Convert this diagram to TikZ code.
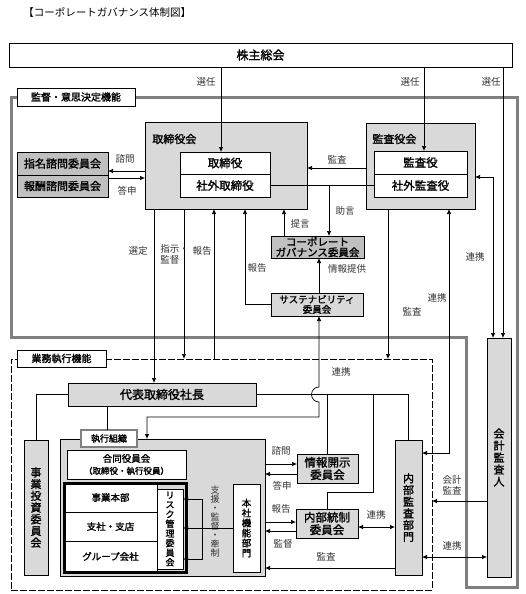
\documentclass[tikz,border=0pt]{standalone}
\usepackage{fontspec}
\setmainfont{Noto Sans CJK JP}[BoldFont={Noto Sans CJK JP},BoldFeatures={FakeBold=1.6}]
\usetikzlibrary{arrows.meta,positioning}
\definecolor{boxgray}{HTML}{D9D9D9}
\definecolor{midgray}{HTML}{C0C0C0}
\definecolor{framegray}{HTML}{808080}
\definecolor{lblgray}{HTML}{333333}
\newcommand\fs[2]{\fontsize{#1}{#2}\selectfont}
\tikzset{
  box/.style={draw,line width=0.8pt,inner sep=0pt,outer sep=0pt,align=center,font=\bfseries\fs{11.5}{13}},
  gbox/.style={box,fill=boxgray},
  mbox/.style={box,fill=midgray},
  wbox/.style={box,fill=white},
  tab/.style={box,fill=white,font=\bfseries\fs{10}{12}},
  lbl/.style={inner sep=0pt,align=center,text=lblgray,font=\fs{9.5}{11}},
  arr/.style={line width=0.7pt,-{Latex[length=5pt,width=4.5pt]}},
  darr/.style={line width=0.7pt,{Latex[length=5pt,width=4.5pt]}-{Latex[length=5pt,width=4.5pt]}}
}
\begin{document}
\begin{tikzpicture}[x=1pt,y=-1pt,line width=0.7pt]
\useasboundingbox (0,0) rectangle (526,594);
\node[anchor=west,inner sep=0pt,font=\fs{10.5}{12}] (title) at (23,12) {【コーポレートガバナンス体制図】};
\node[box,minimum width=503pt,minimum height=24pt,font=\bfseries\fs{12}{14}] (soukai) at (260.5,55) {株主総会};
% 監督・意思決定機能
\draw[framegray,line width=3pt] (11,97) -- (517,97) -- (517,587) -- (466,587) -- (466,337) -- (11,337) -- cycle;
\node[tab,minimum width=118pt,minimum height=18pt] (tab1) at (76,97) {監督・意思決定機能};
\node[gbox,minimum width=162pt,minimum height=87pt] (torikai) at (226,165.5) {};
\node[anchor=west,inner sep=0pt,font=\bfseries\fs{11}{13}] (torikailbl) at (152,139) {取締役会};
\node[wbox,minimum width=90pt,minimum height=22pt] (torA) at (225,163) {取締役};
\node[wbox,minimum width=90pt,minimum height=23pt] (torB) at (225,185.5) {社外取締役};
\node[gbox,minimum width=109pt,minimum height=86pt] (kansakai) at (420.5,166) {};
\node[anchor=west,inner sep=0pt,font=\bfseries\fs{11}{13}] (kansakailbl) at (372,139) {監査役会};
\node[wbox,minimum width=93pt,minimum height=23pt] (kanA) at (420.5,162.5) {監査役};
\node[wbox,minimum width=93pt,minimum height=23pt] (kanB) at (420.5,185.5) {社外監査役};
\node[mbox,minimum width=91pt,minimum height=23pt,font=\bfseries\fs{11}{13}] (shimei) at (62.5,163.5) {指名諮問委員会};
\node[mbox,minimum width=91pt,minimum height=22pt,font=\bfseries\fs{11}{13}] (houshu) at (62.5,186) {報酬諮問委員会};
\node[mbox,minimum width=93pt,minimum height=22pt,font=\bfseries\fs{10.5}{10.5}] (cg) at (317.5,247) {コーポレート\\ガバナンス委員会};
\node[gbox,minimum width=92pt,minimum height=23pt,font=\bfseries\fs{9.5}{10}] (sus) at (317,304.5) {サステナビリティ\\委員会};
% 業務執行機能
\node[box,dash pattern=on 7pt off 2pt,minimum width=421pt,minimum height=231pt] (gyomu) at (221.5,474.5) {};
\node[tab,minimum width=89pt,minimum height=17pt] (tab2) at (61.5,358.5) {業務執行機能};
\node[gbox,minimum width=188pt,minimum height=23pt,font=\bfseries\fs{12}{14}] (pres) at (162,394.5) {代表取締役社長};
\node[gbox,minimum width=24pt,minimum height=135pt,font=\bfseries\fs{11}{11.7}] (jigyo) at (36,507.5) {事\\業\\投\\資\\委\\員\\会};
\node[gbox,minimum width=205pt,minimum height=137pt] (exec) at (162.5,507.5) {};
\node[tab,draw=framegray,line width=1.5pt,minimum width=56pt,minimum height=17pt,font=\bfseries\fs{9}{10}] (tab3) at (109,438.5) {執行組織};
\node[wbox,minimum width=119pt,minimum height=29pt,font=\bfseries\fs{9.5}{12}] (goudou) at (126.5,464.5) {合同役員会\\{\fs{8.5}{10}（取締役・執行役員）}};
\node[wbox,minimum width=93pt,minimum height=29pt,font=\bfseries\fs{9.5}{11}] (row1) at (110.5,497.5) {事業本部};
\node[wbox,minimum width=93pt,minimum height=29pt,font=\bfseries\fs{9.5}{11}] (row2) at (110.5,526.5) {支社・支店};
\node[wbox,minimum width=93pt,minimum height=31pt,font=\bfseries\fs{9.5}{11}] (row3) at (110.5,556.5) {グループ会社};
\node[box,line width=3pt,minimum width=122pt,minimum height=89pt] (bu) at (125,527.5) {};
\node[wbox,minimum width=26pt,minimum height=80pt,font=\bfseries\fs{9}{9.6}] (risk) at (170,529) {リ\\ス\\ク\\管\\理\\委\\員\\会};
\node[wbox,minimum width=27pt,minimum height=88pt,font=\bfseries\fs{9.5}{10}] (honsha) at (246.5,528) {本\\社\\機\\能\\部\\門};
\node[lbl,font=\fs{9}{9.1}] (shien) at (215,521.5) {支\\援\\・\\監\\督\\・\\牽\\制};
\node[gbox,minimum width=61pt,minimum height=29pt,font=\bfseries\fs{11.5}{12.5}] (johokai) at (327.5,468.5) {情報開示\\委員会};
\node[gbox,minimum width=62pt,minimum height=29pt,font=\bfseries\fs{11.5}{12.5}] (naibu) at (327,523.5) {内部統制\\委員会};
\node[gbox,minimum width=27pt,minimum height=135pt,font=\bfseries\fs{11}{11.7}] (audit) at (408.5,507.5) {内\\部\\監\\査\\部\\門};
\node[gbox,minimum width=24pt,minimum height=239pt,font=\bfseries\fs{11}{12}] (kaikei) at (499,457.5) {会\\計\\監\\査\\人};
% 選任
\draw[arr] (soukai.south -| 221,0) -- (torA.north -| 221,0);
\draw[arr] (soukai.south -| 424,0) -- (kanA.north -| 424,0);
\draw[arr] (soukai.south -| 503,0) -- (kaikei.north -| 503,0);
\node[lbl] (sen1) at (206,82) {選任};
\node[lbl] (sen2) at (410,82) {選任};
\node[lbl] (sen3) at (491,82) {選任};
% 取締役会まわり
\draw[arr] (torikai.west |- 0,171) -- (shimei.east |- 0,171);
\draw[arr] (houshu.east |- 0,178) -- (torikai.west |- 0,178);
\node[lbl] (shimon1) at (125,159) {諮問};
\node[lbl] (toushin1) at (127,191) {答申};
\draw[arr] (kansakai.west |- 0,168) -- (torikai.east |- 0,168);
\node[lbl] (kansa1) at (337,160) {監査};
\draw (torB.east) -- (kanB.west);
\draw[arr] (torB.east -| 329,0) -- (cg.north -| 329,0);
\node[lbl] (jogen) at (345,211) {助言};
\draw[arr] (cg.north -| 284,0) -- (torikai.south -| 284,0);
\node[lbl] (teigen) at (300,224) {提言};
\draw[arr] (sus.north -| 319,0) -- (cg.south -| 319,0);
\node[lbl] (jouhou) at (347,269) {情報提供};
\draw[arr] (sus.west) -| (torikai.south -| 245,0);
\node[lbl] (houkoku1) at (257,268) {報告};
\draw[arr] (torikai.south -| 154,0) -- (pres.north -| 154,0);
\node[lbl] (sentei) at (138,251) {選定};
\draw[arr] (torikai.south -| 184,0) -- (gyomu.north -| 184,0);
\node[lbl,anchor=west,align=left] (shiji) at (160,254) {指示・\\監督};
\draw[arr] (gyomu.north -| 214,0) -- (torikai.south -| 214,0);
\node[lbl] (houkoku2) at (202,251) {報告};
% 監査役会まわり
\draw[arr] (kansakai.south -| 388,0) -- (gyomu.north -| 388,0);
\node[lbl] (kansa2) at (412,312) {監査};
\draw[darr] (kansakai.south -| 449,0) |- (audit.east |- 0,453);
\node[lbl] (renkei1) at (437,298) {連携};
\draw[darr] (kansakai.east |- 0,177) -| (kaikei.north -| 493,0);
\node[lbl] (renkei2) at (475,257) {連携};
% 代表取締役社長まわり
\draw (pres.west) -| (jigyo.north);
\draw (pres.south -| 107,0) -- (tab3.north -| 107,0);
\draw[darr] (sus.south -| 319,0) -- (319,387) arc[start angle=-90,end angle=-270,radius=7.5] -- (319,417) -| (exec.north -| 147,0);
\draw (pres.east) -| (audit.north);
\draw (johokai.north |- pres.east) -- (johokai.north);
\draw (pres.east -| 373,0) -- (373,492) -| (naibu.north);
\node[lbl] (renkei3) at (341,372) {連携};
% 執行組織まわり
\draw[arr] (exec.east |- 0,464) -- (johokai.west |- 0,464);
\draw[arr] (johokai.west |- 0,474) -- (exec.east |- 0,474);
\node[lbl] (shimon2) at (281,451) {諮問};
\node[lbl] (toushin2) at (282,486) {答申};
\draw[arr] (exec.east |- 0,522) -- (naibu.west |- 0,522);
\draw[arr] (naibu.west |- 0,531) -- (exec.east |- 0,531);
\node[lbl] (houkoku3) at (281,509) {報告};
\node[lbl] (kantoku) at (283,544) {監督};
\draw[darr] (naibu.east |- 0,527) -- (audit.west |- 0,527);
\node[lbl] (renkei4) at (376,515) {連携};
\draw[arr] (audit.west |- 0,568) -- (exec.east |- 0,568);
\node[lbl] (kansa3) at (326,557) {監査};
\draw[arr] (kaikei.west |- 0,501) -- (gyomu.east |- 0,501);
\node[lbl] (kaikeikansa) at (452,485) {会計\\監査};
\draw[darr] (audit.east |- 0,557) -- (kaikei.west |- 0,557);
\node[lbl] (renkei5) at (452,546) {連携};
\coordinate (brk) at (honsha.west -| 202,0);
\draw[arr] (honsha.west) -- (risk.east |- honsha.west);
\draw[arr] (brk) |- (risk.east |- 0,499);
\draw[arr] (brk) |- (risk.east |- 0,559);
\end{tikzpicture}
\end{document}
